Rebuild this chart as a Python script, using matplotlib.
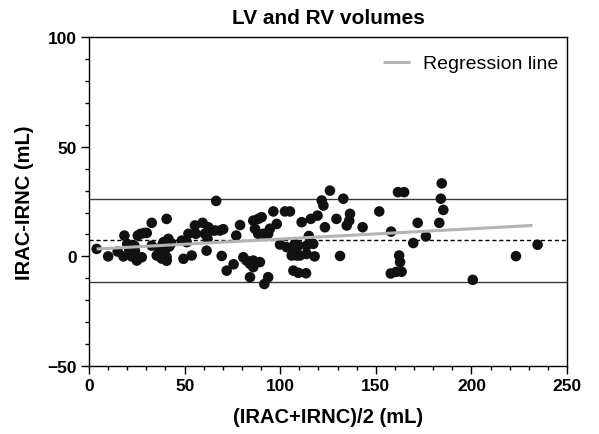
"""Bland-Altman style plot: LV and RV volumes, IRAC vs IRNC."""
import numpy as np
import matplotlib
matplotlib.use("Agg")
import matplotlib.pyplot as plt
from matplotlib.ticker import MultipleLocator

plt.rcParams["font.family"] = ["Liberation Sans", "DejaVu Sans"]

# ── Data ─────────────────────────────────────────────────────────────────────
mean_vals = [
    4, 10, 15, 18, 18.5, 20, 21, 22.3, 23.7, 24, 24.4, 25, 27.6, 25.5, 27, 29,
    30.2, 32.8, 32.8, 35.4, 37, 38.5, 39.5, 40.6, 40.6, 40.6, 41.5, 39, 42, 38,
    36.5, 43,
    48.5, 49.4, 51.1, 52, 53.7, 55.4, 55.9, 59.4, 60.6, 62, 61.5, 62.4, 64.2,
    65.9, 66.5, 68.5, 70.2, 69.4, 72, 75.6, 79, 77,
    80.7, 82.4, 84.2, 85.9, 85.9, 89.4, 84.2, 93.7, 91.7, 85.9, 86.8, 88.5,
    90.3, 88.5, 91.1, 93.7, 94.6, 96.4, 98.2,
    99.9, 102.5, 105.1, 103.4, 107.7, 109.5, 106.9, 108.6, 110.3, 106, 113.8,
    113.8, 106.9, 109.5, 113.5, 111.2, 116, 115, 117.3, 118, 119.5, 121.7,
    122.6, 123.4,
    126, 133, 129.4, 134.8, 136.1, 136.5, 143.1, 131.3, 151.8, 158, 161.6,
    164.8, 162.2, 162.7, 157.8, 160.6, 163.5, 169.6, 171.9, 176.2, 184.5, 184,
    185.3, 183.2, 200.7, 223.3, 234.6,
]
diff_vals = [
    3.4, 0, 2.2, 0, 9.5, 5.7, 3.4, 0, 4.9, 2.6, 0, -1.9, -0.4, 9.5, 10.3, 10.7,
    10.7, 15.3, 4.9, 0.4, 3.5, 5.5, 2.0, 17.1, -0.4, -2, 8, 6.5, 4.5, -1,
    1.5, 6,
    7.2, -1.1, 6.5, 10.3, 0.4, 14.1, 10.3, 15.3, 10.3, 8, 2.6, 13.3, 11.8,
    11.8, 25.3, 11.8, 12.4, 0.2, -6.5, -3.6, 14.3, 9.5,
    -0.4, -1.9, -3.4, -4.9, -1.9, -2.6, -9.5, -9.5, -12.6, 16.3, 12.6, 17.1,
    17.9, 10.3, 10.3, 10.3, 12.6, 20.5, 14.8,
    5.4, 20.5, 20.5, 4.2, 5.7, 4.9, 2.6, 0.4, 0.4, 0.4, 4.9,
    1.1, -6.5, -7.5, -7.7, 15.6, 17.1, 9.3, 5.7, 0, 18.6, 25.5,
    23.2, 13.3,
    30, 26.3, 17.1, 14.1, 16.3, 19.4, 13.3, 0.2, 20.5, 11.3, 29.3,
    29.3, 0.4, -2.6, -7.8, -7.1, -7, 6.1, 15.3, 9.1, 33.3, 26.3,
    21.2, 15.3, -10.7, 0.1, 5.3,
]

bias = 7.4
upper_loa = 26.3
lower_loa = -11.5

reg_x = [4, 232]
reg_intercept = 3.2
reg_slope = 0.047

# ── Plot ─────────────────────────────────────────────────────────────────────
fig = plt.figure(figsize=(5.99, 4.35), dpi=100)
ax = fig.add_axes([0.1486, 0.1563, 0.798, 0.756])

ax.axhline(upper_loa, color="#3a3a3a", lw=1.0, zorder=1)
ax.axhline(lower_loa, color="#3a3a3a", lw=1.0, zorder=1)
ax.axhline(bias, color="black", lw=1.0, ls=(0, (3, 2)), zorder=1)

ax.scatter(mean_vals, diff_vals, s=58, color="#111111", edgecolors="none", zorder=3)

rx = np.array(reg_x, dtype=float)
ax.plot(rx, reg_intercept + reg_slope * rx, color="#b4b4b4", lw=2.2,
        solid_capstyle="butt", zorder=4, label="Regression line")

ax.set_xlim(0, 250)
ax.set_ylim(-50, 100)
ax.xaxis.set_major_locator(MultipleLocator(50))
ax.xaxis.set_minor_locator(MultipleLocator(10))
ax.yaxis.set_major_locator(MultipleLocator(50))
ax.yaxis.set_minor_locator(MultipleLocator(10))
ax.tick_params(which="major", length=5.5, width=1.0, labelsize=12.5, pad=3)
ax.tick_params(which="minor", length=3, width=1.0)
for lab in ax.get_xticklabels() + ax.get_yticklabels():
    lab.set_fontweight("bold")
for sp in ax.spines.values():
    sp.set_linewidth(1.0)

ax.set_title("LV and RV volumes", fontsize=15, fontweight="bold", pad=10)
ax.set_xlabel("(IRAC+IRNC)/2 (mL)", fontsize=14.5, fontweight="bold", labelpad=10)
ax.set_ylabel("IRAC-IRNC (mL)", fontsize=14.5, fontweight="bold", labelpad=10)

ax.legend(loc="upper right", bbox_to_anchor=(1.0, 0.973), frameon=False,
          fontsize=14, handlelength=1.4, handletextpad=0.65, borderaxespad=0.05)

fig.savefig("out.png", dpi=100)
